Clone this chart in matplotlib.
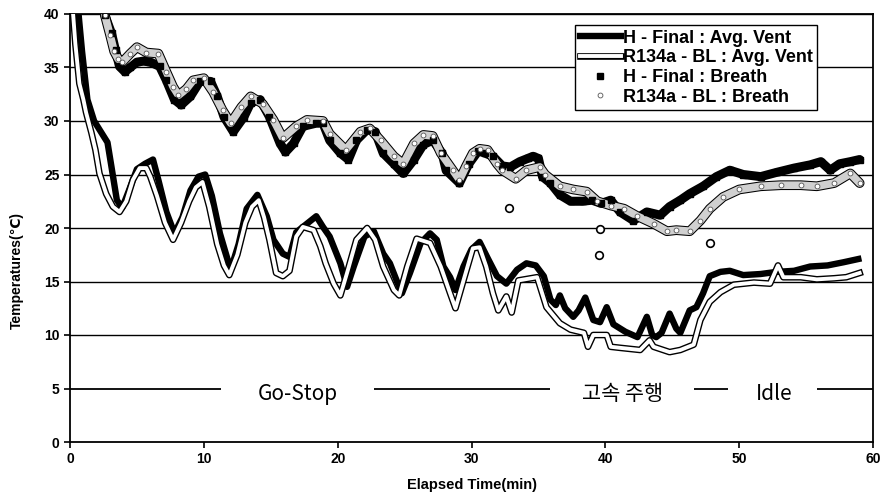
import matplotlib
matplotlib.use("Agg")
import matplotlib.pyplot as plt
import matplotlib.patheffects as pe

# H - Final : Avg. Vent
hf_vent_t = [0.6, 0.9, 1.3, 1.8, 2.3, 2.8, 3.1, 3.5, 3.9, 4.4, 5.0, 5.6, 6.2, 6.6, 7.2, 7.8, 8.4, 9.0,
             9.6, 10.1, 10.6, 11.2, 12.0, 12.6, 13.2, 14.0, 14.7, 15.2, 15.9, 16.4, 16.9, 17.7, 18.4,
             18.9, 19.4, 20.2, 20.7, 21.2, 22.0, 22.7, 23.4, 23.9, 24.4, 24.8, 25.4, 26.2, 26.9, 27.4,
             27.9, 28.4, 28.8, 29.4, 30.0, 30.6, 31.2, 31.9, 32.6, 33.4, 34.1, 34.8, 35.4, 35.9, 36.3,
             36.6, 37.0, 37.6, 38.0, 38.5, 39.1, 39.6, 40.1, 40.6, 41.5, 42.4, 43.1, 43.5, 43.8, 44.2,
             44.8, 45.3, 45.6, 46.3, 46.8, 47.3, 47.8, 48.6, 49.3, 50.3, 51.6, 52.8, 54.1, 55.3, 56.6,
             57.8, 58.9]
hf_vent = [40.5, 36.5, 32.0, 30.0, 29.0, 28.0, 25.7, 22.6, 21.9, 23.5, 25.5, 26.0, 26.4, 24.5, 21.5,
           19.5, 21.0, 23.5, 24.8, 25.0, 23.0, 19.5, 16.1, 18.5, 21.8, 23.1, 21.1, 18.9, 17.6, 17.3,
           19.6, 20.4, 21.1, 20.1, 19.2, 16.7, 14.5, 16.4, 19.2, 19.7, 17.6, 16.7, 15.1, 13.9, 15.8,
           18.6, 19.5, 18.9, 16.4, 15.4, 14.2, 16.4, 18.0, 18.7, 17.2, 15.5, 14.8, 16.1, 16.7, 16.5,
           15.5, 13.3, 12.8, 13.7, 12.5, 11.7, 12.3, 13.5, 11.4, 11.2, 12.6, 11.0, 10.3, 9.8, 11.7,
           10.0, 9.8, 10.2, 12.0, 10.6, 10.2, 12.3, 12.6, 13.9, 15.5, 15.9, 16.0, 15.6, 15.7, 15.9,
           16.0, 16.4, 16.5, 16.8, 17.1]

# R134a - BL : Avg. Vent
r_vent_t = [0.2, 0.4, 0.7, 1.0, 1.2, 1.6, 1.9, 2.2, 2.7, 3.2, 3.7, 4.2, 4.7, 5.2, 5.7, 6.0, 6.5, 7.1,
            7.7, 8.3, 8.9, 9.4, 9.9, 10.4, 11.0, 11.5, 11.9, 12.5, 13.1, 13.6, 14.1, 14.5, 14.9, 15.4,
            15.9, 16.4, 16.9, 17.4, 18.2, 18.7, 19.1, 19.7, 20.2, 20.7, 21.4, 22.2, 22.8, 23.4, 24.2,
            24.6, 25.2, 25.9, 26.9, 27.7, 28.4, 28.8, 29.4, 30.1, 30.6, 31.1, 31.6, 32.0, 32.6, 33.0,
            33.5, 34.9, 35.6, 36.6, 37.4, 38.4, 38.7, 39.1, 40.1, 40.4, 41.1, 42.6, 43.3, 43.6, 44.8,
            45.6, 46.6, 47.1, 47.8, 48.6, 49.6, 51.1, 52.3, 52.9, 53.3, 54.6, 55.8, 57.1, 58.0, 59.0]
r_vent = [40.5, 37.2, 33.5, 32.0, 30.8, 28.9, 27.3, 25.1, 23.2, 22.0, 21.5, 22.5, 24.5, 25.6, 25.6,
          24.8, 23.0, 20.5, 18.9, 20.5, 22.5, 23.8, 24.3, 22.0, 18.5, 16.5, 15.6, 17.5, 20.5, 22.0,
          22.6, 21.0, 18.9, 15.8, 15.5, 16.0, 19.2, 20.1, 19.8, 18.3, 16.7, 14.8, 13.7, 15.8, 18.9,
          20.0, 18.9, 16.4, 14.2, 13.7, 16.4, 19.0, 18.6, 16.4, 13.9, 12.5, 15.1, 18.1, 18.2, 16.4,
          13.9, 12.3, 13.6, 12.1, 15.1, 15.4, 12.6, 11.1, 10.5, 10.2, 8.9, 10.0, 10.0, 8.9, 8.8, 8.6,
          9.5, 8.9, 8.4, 8.6, 9.1, 11.4, 13.1, 14.0, 14.7, 14.9, 14.8, 16.5, 15.4, 15.4, 15.2, 15.3,
          15.4, 15.8]

# H - Final : Breath
hf_breath_t = [2.6, 3.1, 3.4, 3.7, 4.1, 4.5, 5.0, 5.5, 6.0, 6.7, 7.2, 7.8, 8.3, 9.0, 9.7, 10.5, 11.0,
               11.5, 12.2, 13.0, 13.5, 14.2, 14.9, 15.7, 16.1, 16.7, 17.4, 18.4, 18.9, 19.4, 20.2,
               20.8, 21.4, 22.2, 22.8, 23.4, 24.2, 24.9, 25.7, 26.4, 27.1, 27.8, 28.1, 29.1, 29.8,
               30.5, 31.0, 31.6, 32.3, 32.9, 33.6, 34.2, 34.6, 35.0, 35.3, 35.9, 36.6, 37.4, 38.3,
               39.0, 39.7, 40.4, 41.1, 42.1, 43.1, 44.1, 44.8, 45.6, 46.3, 47.3, 48.3, 49.3, 50.3,
               51.6, 52.8, 54.1, 55.3, 56.1, 56.8, 57.5, 58.3, 59.0]
hf_breath = [39.9, 38.2, 36.6, 35.1, 34.6, 35.0, 35.5, 35.6, 35.5, 35.1, 33.8, 32.0, 31.5, 32.3, 33.7,
             33.7, 32.3, 30.4, 29.0, 30.4, 31.7, 32.0, 30.4, 27.9, 27.1, 27.9, 29.5, 29.8, 29.8, 28.2,
             27.0, 26.4, 28.2, 29.2, 29.0, 27.0, 26.0, 25.1, 26.4, 27.8, 28.2, 27.0, 25.4, 24.2, 26.0,
             27.2, 27.0, 26.7, 25.8, 25.7, 26.2, 26.5, 26.7, 26.5, 24.8, 24.2, 23.1, 22.5, 22.5, 22.6,
             22.3, 22.6, 21.5, 20.7, 21.5, 21.2, 22.0, 22.6, 23.2, 23.9, 24.8, 25.4, 25.0, 24.8, 25.2,
             25.6, 25.9, 26.2, 25.4, 26.0, 26.2, 26.4]

# R134a - BL : Breath
r_breath_t = [2.6, 3.0, 3.3, 3.6, 3.9, 4.5, 5.0, 5.7, 6.6, 7.2, 7.7, 8.1, 8.7, 9.2, 10.0, 10.7, 11.4,
              12.0, 12.8, 13.5, 14.4, 15.2, 15.9, 16.9, 17.7, 18.9, 19.4, 20.6, 21.7, 22.4, 23.2,
              24.2, 24.9, 25.7, 26.4, 27.1, 27.7, 28.6, 29.1, 29.6, 30.1, 30.6, 31.2, 31.9, 32.3,
              33.3, 34.1, 35.1, 35.5, 36.6, 37.6, 38.6, 39.4, 40.4, 41.4, 42.4, 43.6, 44.6, 45.3,
              46.3, 47.1, 47.8, 48.8, 50.0, 51.6, 53.1, 54.6, 55.8, 57.1, 58.3, 59.0]
r_breath = [39.9, 38.0, 36.5, 35.8, 35.5, 36.3, 36.9, 36.4, 36.3, 34.6, 33.2, 32.4, 33.0, 33.8, 34.0,
            32.7, 31.0, 29.8, 31.3, 32.3, 31.6, 30.1, 28.4, 29.5, 30.1, 30.0, 28.8, 27.3, 29.0, 29.3,
            28.2, 26.7, 26.0, 27.9, 28.7, 28.6, 27.0, 25.4, 24.5, 25.8, 27.0, 27.4, 27.3, 26.0, 25.4,
            24.6, 25.4, 25.7, 25.0, 23.9, 23.6, 23.4, 22.5, 22.1, 21.8, 21.1, 20.4, 19.7, 19.8, 19.7,
            20.7, 21.8, 22.9, 23.6, 23.9, 24.0, 24.0, 23.9, 24.2, 25.1, 24.2]
# isolated breath readings
r_breath_out_t = [32.8, 39.6, 39.5, 47.8]
r_breath_out = [21.9, 19.9, 17.5, 18.6]

# driving phase annotation on the 5 degree line
phase_labels = ["Go-Stop", "고속 주행", "Idle"]
phase_pos = [17.0, 41.3, 52.6]
phase_lines = [(0, 11.3), (22.7, 35.9), (46.6, 49.2), (55.8, 60)]

bold = dict(family=["Liberation Sans", "DejaVu Sans"], fontweight="bold")

fig = plt.figure(figsize=(8.84, 5.0), dpi=100)
ax = fig.add_axes([0.0792, 0.116, 0.9084, 0.856])
ax.set_xlim(0, 60)
ax.set_ylim(0, 40)

for yv in [10, 15, 20, 25, 30, 35, 40]:
    ax.axhline(yv, color="black", lw=1.0, zorder=1)
for x0, x1 in phase_lines:
    ax.hlines(5, x0, x1, color="black", lw=1.3, zorder=1)
for lab, xp in zip(phase_labels, phase_pos):
    ax.text(xp, 4.5, lab, ha="center", va="center", fontsize=15,
            family=["Noto Sans CJK KR", "DejaVu Sans"])

# breath bands (dense readings) with the markers on top
ax.plot(hf_breath_t, hf_breath, color="black", lw=6.5, solid_capstyle="round", zorder=2)
ax.plot(r_breath_t, r_breath, color="#d0d0d0", lw=5.5, solid_capstyle="round", zorder=3,
        path_effects=[pe.Stroke(linewidth=7, foreground="black"), pe.Normal()])
hb, = ax.plot(hf_breath_t, hf_breath, ls="none", marker="s", ms=4, mfc="black", mec="black",
              zorder=4, label="H - Final : Breath")
rb, = ax.plot(r_breath_t, r_breath, ls="none", marker="o", ms=3.5, mfc="white", mec="#555555",
              mew=0.6, zorder=4, label="R134a - BL : Breath")
ax.plot(r_breath_out_t, r_breath_out, ls="none", marker="o", ms=5.5, mfc="white", mec="black",
        mew=1.2, zorder=4)

hv, = ax.plot(hf_vent_t, hf_vent, color="black", lw=4.6, zorder=5, label="H - Final : Avg. Vent")
rv, = ax.plot(r_vent_t, r_vent, color="white", lw=2.8, zorder=6, label="R134a - BL : Avg. Vent",
              path_effects=[pe.Stroke(linewidth=4.8, foreground="black"), pe.Normal()])

ax.set_xticks(range(0, 61, 10))
ax.set_yticks(range(0, 41, 5))
ax.tick_params(direction="out", length=4, width=1.2, labelsize=10)
for lbl in ax.get_xticklabels() + ax.get_yticklabels():
    lbl.set_fontweight("bold")
    lbl.set_family(["Liberation Sans", "DejaVu Sans"])
for s in ax.spines.values():
    s.set_linewidth(1.3)

ax.set_xlabel("Elapsed Time(min)", fontsize=10.5, labelpad=8, **bold)
ax.set_ylabel("Temperatures(℃)", fontsize=10, labelpad=6, **bold)
ax.yaxis.set_label_coords(-0.058, 0.40)

leg = ax.legend(handles=[hv, rv, hb, rb], loc="upper left", bbox_to_anchor=(0.629, 0.974),
                prop=dict(family="Liberation Sans", weight="bold", size=13),
                frameon=True, fancybox=False, edgecolor="black", framealpha=1,
                borderpad=0.25, labelspacing=0.15, handlelength=2.3, handletextpad=0.1,
                borderaxespad=0)
leg.get_frame().set_linewidth(1.0)
leg.set_zorder(10)

fig.savefig("out.png", dpi=100)
